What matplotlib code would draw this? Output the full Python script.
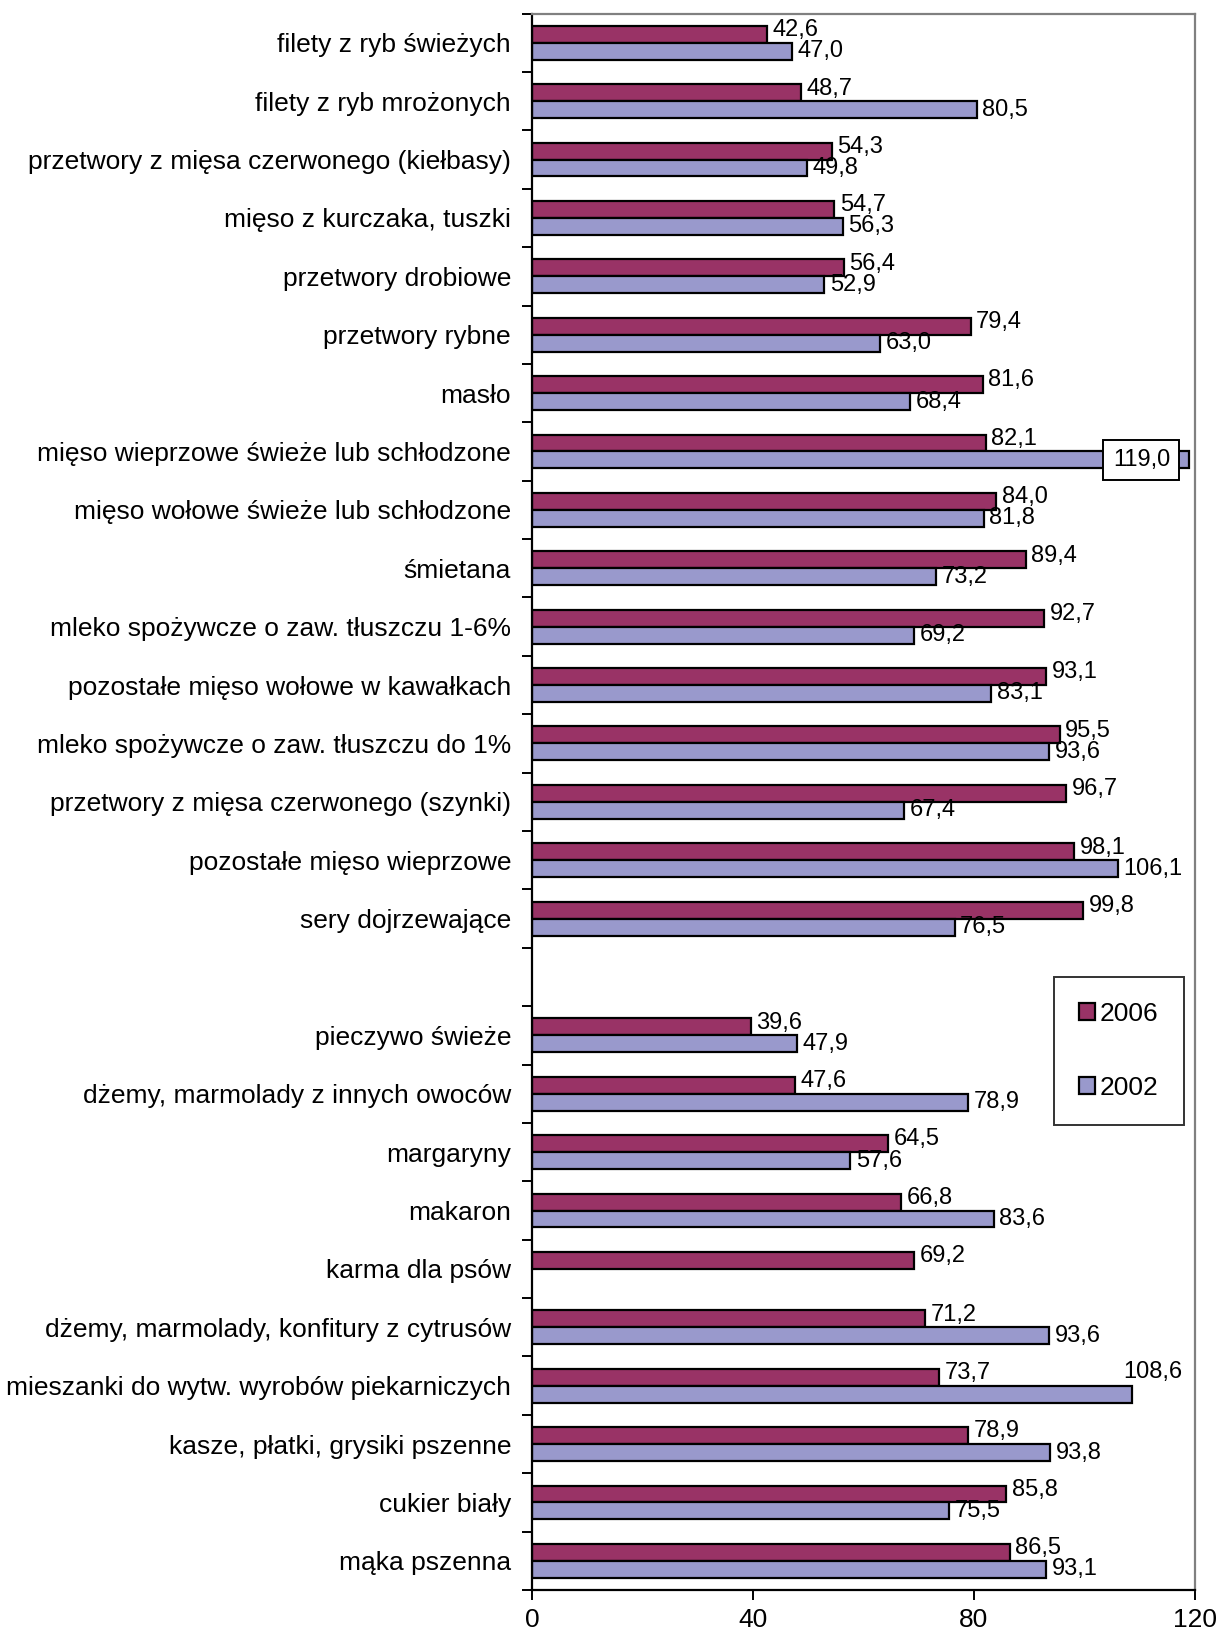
import numpy as np
import matplotlib
matplotlib.rcParams['font.family'] = 'sans-serif'
matplotlib.rcParams['font.sans-serif'] = ['Liberation Sans', 'DejaVu Sans']
import matplotlib.pyplot as plt

cats_top = ['filety z ryb świeżych', 'filety z ryb mrożonych',
            'przetwory z mięsa czerwonego (kiełbasy)', 'mięso z kurczaka, tuszki',
            'przetwory drobiowe', 'przetwory rybne', 'masło',
            'mięso wieprzowe świeże lub schłodzone', 'mięso wołowe świeże lub schłodzone',
            'śmietana', 'mleko spożywcze o zaw. tłuszczu 1-6%',
            'pozostałe mięso wołowe w kawałkach', 'mleko spożywcze o zaw. tłuszczu do 1%',
            'przetwory z mięsa czerwonego (szynki)', 'pozostałe mięso wieprzowe',
            'sery dojrzewające']
v2006_top = [42.6, 48.7, 54.3, 54.7, 56.4, 79.4, 81.6, 82.1, 84.0, 89.4, 92.7, 93.1,
             95.5, 96.7, 98.1, 99.8]
v2002_top = [47.0, 80.5, 49.8, 56.3, 52.9, 63.0, 68.4, 119.0, 81.8, 73.2, 69.2, 83.1,
             93.6, 67.4, 106.1, 76.5]

cats_bot = ['pieczywo świeże', 'dżemy, marmolady z innych owoców', 'margaryny',
            'makaron', 'karma dla psów', 'dżemy, marmolady, konfitury z cytrusów',
            'mieszanki do wytw. wyrobów piekarniczych', 'kasze, płatki, grysiki pszenne',
            'cukier biały', 'mąka pszenna']
v2006_bot = [39.6, 47.6, 64.5, 66.8, 69.2, 71.2, 73.7, 78.9, 85.8, 86.5]
v2002_bot = [47.9, 78.9, 57.6, 83.6, np.nan, 93.6, 108.6, 93.8, 75.5, 93.1]

# empty slot between the two groups
cats = cats_top + [''] + cats_bot
v2006 = np.array(v2006_top + [np.nan] + v2006_bot)
v2002 = np.array(v2002_top + [np.nan] + v2002_bot)
pos = np.arange(len(cats))

c06 = '#993366'
c02 = '#9999CC'
h = 0.29
vfs = 17

fig = plt.figure(figsize=(12.2, 16.37), dpi=100)
ax = fig.add_axes([0.436, 0.0287, 0.5435, 0.963])

m06 = ~np.isnan(v2006)
m02 = ~np.isnan(v2002)
ax.barh(pos[m06] - h/2, v2006[m06], height=h, color=c06, edgecolor='black',
        linewidth=1.6, label='2006')
ax.barh(pos[m02] + h/2, v2002[m02], height=h, color=c02, edgecolor='black',
        linewidth=1.6, label='2002')

def fmt(v):
    return ('%.1f' % v).replace('.', ',')

for i in pos:
    if m06[i]:
        ax.annotate(fmt(v2006[i]), (v2006[i], i - h/2), xytext=(4, 3),
                    textcoords='offset points', ha='left', va='center', fontsize=vfs)
    if m02[i]:
        v = v2002[i]
        if v > 115:
            ax.annotate(fmt(v), (v, i + h/2), xytext=(-14, 0), textcoords='offset points',
                        ha='right', va='center', fontsize=vfs,
                        bbox=dict(boxstyle='square,pad=0.4', fc='white', ec='black', lw=1.4))
        elif v > 105 and i > 16:
            ax.annotate(fmt(v), (v, i + h/2), xytext=(-6, 16), textcoords='offset points',
                        ha='left', va='center', fontsize=vfs)
        else:
            ax.annotate(fmt(v), (v, i + h/2), xytext=(4, 0), textcoords='offset points',
                        ha='left', va='center', fontsize=vfs)

ax.set_xlim(0, 120)
ax.set_ylim(len(cats) - 0.5, -0.5)
ax.set_xticks([0, 40, 80, 120])
ax.tick_params(axis='x', labelsize=19, length=7, width=1.4, pad=6)
ax.set_yticks(pos)
ax.set_yticklabels(cats, fontsize=19)
ax.tick_params(axis='y', which='major', length=0, pad=15)
ax.set_yticks(np.arange(-0.5, len(cats)), minor=True)
ax.tick_params(axis='y', which='minor', length=7, width=1.4)

ax.spines['left'].set_linewidth(1.6)
ax.spines['bottom'].set_linewidth(1.6)
ax.spines['top'].set_color('#808080')
ax.spines['right'].set_color('#808080')
ax.spines['top'].set_linewidth(1.6)
ax.spines['right'].set_linewidth(1.6)

leg = ax.legend(loc='upper left', bbox_to_anchor=(0.787, 0.389), fontsize=19,
                frameon=True, fancybox=False, edgecolor='black', handlelength=0.6,
                handleheight=0.6, handletextpad=0.2, labelspacing=1.9, borderpad=0.95,
                borderaxespad=0)
leg.get_frame().set_linewidth(1.4)

plt.savefig('out.png', dpi=100)
